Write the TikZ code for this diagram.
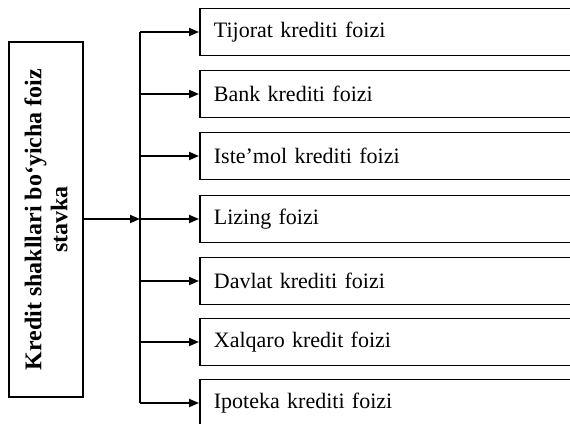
\documentclass[tikz,border=0pt]{standalone}
\usepackage{fontspec}
\setmainfont{Liberation Serif}
\usetikzlibrary{arrows.meta}
\begin{document}
\begin{tikzpicture}[x=1pt,y=-1pt,
  rowbox/.style={draw, line width=1.8pt, anchor=west, minimum height=47pt,
    text width=400pt, inner xsep=14pt, align=left, font=\fontsize{22}{26}\selectfont},
  mainbox/.style={draw, line width=2pt, rotate=90, minimum width=355pt, minimum height=74pt,
    align=center, font=\fontsize{24}{26}\selectfont\bfseries},
  arr/.style={line width=1.8pt, -{Triangle[length=10pt,width=8pt]}},
  bus/.style={line width=2.6pt}]
\clip (0,0) rectangle (570,423);
\fill[white] (0,0) rectangle (570,423);
\node[mainbox] (L) at (46,219.5) {Kredit shakllari bo‘yicha foiz\\stavka};
\node[rowbox] (R1) at (199,32) {Tijorat krediti foizi};
\node[rowbox] (R2) at (199,94) {Bank krediti foizi};
\node[rowbox] (R3) at (199,156) {Iste’mol krediti foizi};
\node[rowbox] (R4) at (199,219) {Lizing foizi};
\node[rowbox] (R5) at (199,281) {Davlat krediti foizi};
\node[rowbox] (R6) at (199,342) {Xalqaro kredit foizi};
\node[rowbox] (R7) at (199,403) {Ipoteka krediti foizi};
\coordinate (Bt) at (140,32);
\coordinate (Bb) at (140,403);
\draw[bus] (Bt) -- (Bb);
\draw[arr] (L.south |- R4.west) -- (Bt |- R4.west);
\foreach \r in {R1,R2,R3,R4,R5,R6,R7} {
  \draw[arr] (Bt |- \r.west) -- (\r.west);
}
\end{tikzpicture}
\end{document}
